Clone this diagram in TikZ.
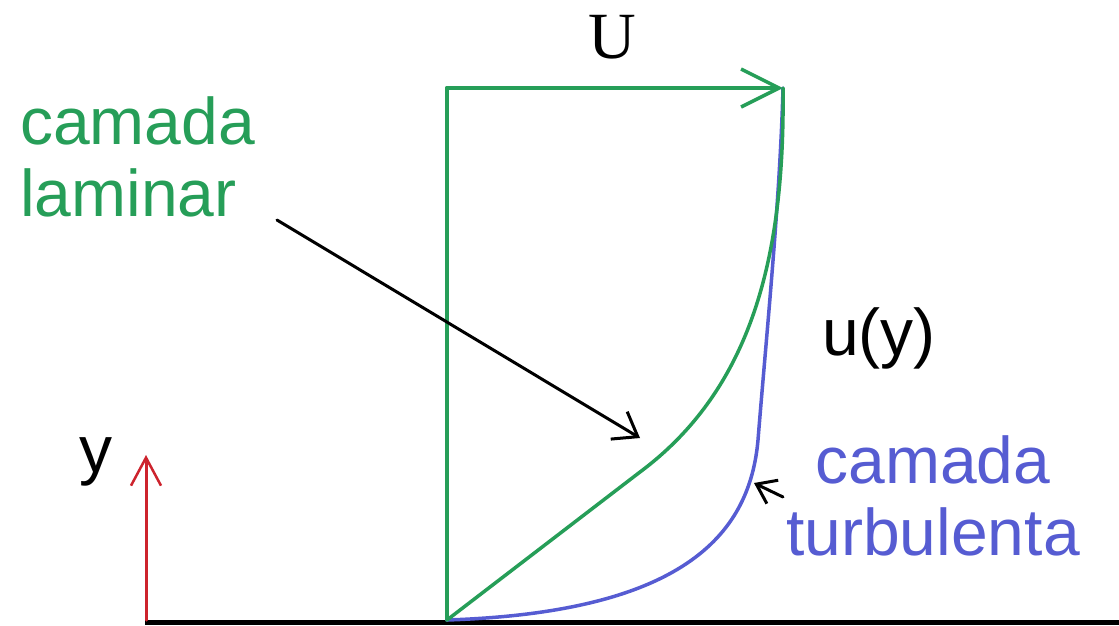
\documentclass[tikz,border=0pt]{standalone}
\usepackage{fontspec}
\setmainfont{Liberation Sans}
\newfontfamily\serifU{Liberation Serif}
\usetikzlibrary{arrows.meta}
\definecolor{lamgreen}{RGB}{38,158,88}
\definecolor{turbblue}{RGB}{86,92,210}
\definecolor{axisred}{RGB}{205,35,45}
\tikzset{
  lbl/.style={inner sep=0pt, font=\fontsize{66}{72}\selectfont},
}
\begin{document}
\begin{tikzpicture}[x=1pt, y=-1pt, line cap=round, line join=round]
\useasboundingbox (0,0) rectangle (1119,625);
% key points
\coordinate (O) at (447,620);
\coordinate (C) at (447,88);
\coordinate (T) at (783,88);
\coordinate (Ax0) at (145,622.5);
\coordinate (Ax1) at (1119,622.5);
\coordinate (Y0) at (146,620);
\coordinate (Y1) at (146,455);
\coordinate (G1) at (640,472);
\coordinate (B1) at (758,440);
% ground line
\draw[line width=5pt, line cap=butt] (Ax0) -- (Ax1);
% free-stream profile
\draw[lamgreen, line width=4pt] (O) -- (C);
\draw[lamgreen, line width=4pt, -{Straight Barb[length=38pt, width=38pt, line width=3.5pt]}] (C) -- (T);
% turbulent profile
\draw[turbblue, line width=3.5pt] (O) .. controls (690,612) and (750,530) .. (B1)
   .. controls (766,340) and (780,200) .. (T);
% laminar profile
\draw[lamgreen, line width=3.5pt] (O) -- (G1) .. controls (750,390) and (785,260) .. (T);
% y axis
\draw[axisred, line width=3pt, -{Straight Barb[length=28pt, width=30pt, line width=2.5pt]}] (Y0) -- (Y1);
% labels
\node[lbl, anchor=base] (U) at (612,58) {\serifU U};
\node[lbl, anchor=base west] (uy) at (822,355) {u(y)};
\node[lbl, anchor=base west] (yl) at (79,472) {y};
\node[lbl, lamgreen, anchor=base west, align=left] (lam) at (20,216)
  {camada\\laminar};
\node[lbl, turbblue, anchor=base, align=center] (turb) at (933,555)
  {camada\\turbulenta};
% pointer arrows
\coordinate (lamS) at (277,220);
\coordinate (lamE) at (640,438);
\draw[line width=3pt, -{Straight Barb[length=22pt, width=32pt, line width=3pt]}] (lamS) -- (lamE);
\coordinate (turS) at (783,497);
\coordinate (turE) at (754,483);
\draw[line width=3pt, -{Straight Barb[length=18pt, width=26pt, line width=3pt]}] (turS) -- (turE);
\end{tikzpicture}
\end{document}
